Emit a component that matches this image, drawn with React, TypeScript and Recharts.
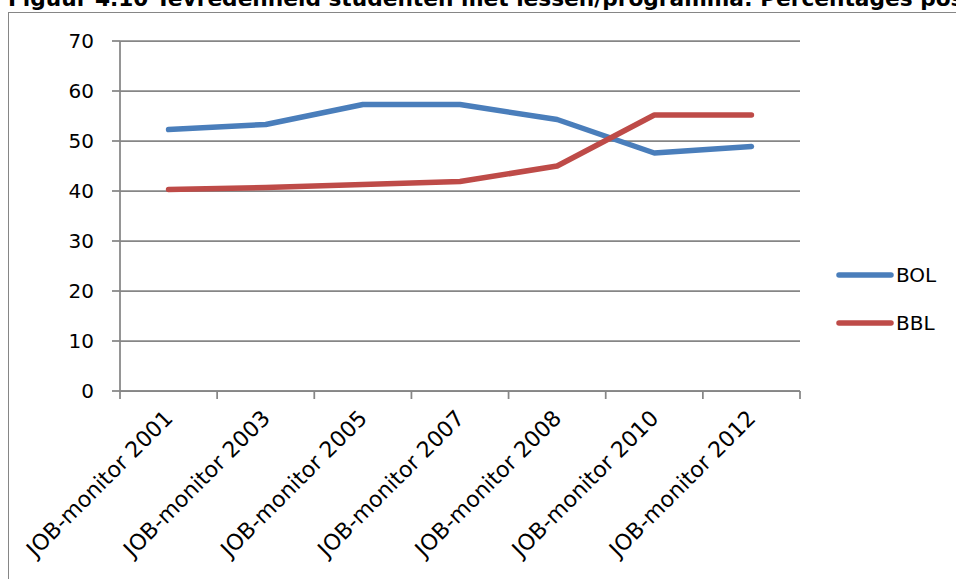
import { LineChart, Line, XAxis, YAxis, CartesianGrid, Legend } from 'recharts';

const categories = [
  'JOB-monitor 2001',
  'JOB-monitor 2003',
  'JOB-monitor 2005',
  'JOB-monitor 2007',
  'JOB-monitor 2008',
  'JOB-monitor 2010',
  'JOB-monitor 2012',
];
const bol = [52.3, 53.3, 57.3, 57.3, 54.3, 47.6, 48.9];
const bbl = [40.3, 40.7, 41.3, 41.9, 45.0, 55.2, 55.2];
const yTicks = [0, 10, 20, 30, 40, 50, 60, 70];

const title = 'Figuur 4.10 Tevredenheid studenten met lessen/programma: Percentages positief';

const data = categories.map((name, i) => ({ name, BOL: bol[i], BBL: bbl[i] }));

const W = 956;
const H = 579;
const PLOT_LEFT = 120;
const PLOT_RIGHT = 800;
const BAND = (PLOT_RIGHT - PLOT_LEFT) / categories.length;
const TICK = 8;
const GRID = '#868686';
const FONT = '"DejaVu Sans", Verdana, sans-serif';

const series = [
  { key: 'BOL', color: '#4A7EBB' },
  { key: 'BBL', color: '#BE4B48' },
];

// Excel style: tick marks between categories, labels at 45 degrees
const XTick = (props: any) => {
  const { x, y, payload, index } = props;
  const half = BAND / 2;
  return (
    <g>
      <line x1={x - half} x2={x - half} y1={y - TICK} y2={y} stroke={GRID} strokeWidth={1.75} />
      {index === categories.length - 1 && (
        <line x1={x + half} x2={x + half} y1={y - TICK} y2={y} stroke={GRID} strokeWidth={1.75} />
      )}
      <text
        transform={`translate(${x},${y + 15}) rotate(-45)`}
        textAnchor="end"
        dy="0.36em"
        fontSize={22}
        fontFamily={FONT}
        fill="#000"
      >
        {payload.value}
      </text>
    </g>
  );
};

const LegendBox = () => (
  <div>
    {series.map((s) => (
      <div key={s.key} style={{ display: 'flex', alignItems: 'center', height: 48 }}>
        <svg width={58} height={10} style={{ display: 'block' }}>
          <line x1={3} x2={55} y1={5} y2={5} stroke={s.color} strokeWidth={5.5} strokeLinecap="round" />
        </svg>
        <span style={{ fontSize: 20, fontFamily: FONT, color: '#000', marginLeft: 2 }}>{s.key}</span>
      </div>
    ))}
  </div>
);

export default function App() {
  return (
    <div
      style={{
        position: 'absolute',
        left: 0,
        top: 0,
        width: W,
        height: H,
        overflow: 'hidden',
        background: '#fff',
        fontFamily: FONT,
      }}
    >
      {/* frame of the chart object, cut off on the right and bottom */}
      <div
        style={{
          position: 'absolute',
          left: 8,
          top: 12,
          width: W + 20,
          height: H + 20,
          borderLeft: `1.5px solid ${GRID}`,
          borderTop: `1.5px solid ${GRID}`,
        }}
      />
      <svg width={W} height={20} style={{ position: 'absolute', left: 0, top: 0 }}>
        <text x={8} y={6} fontSize={21.7} fontWeight="bold" fontFamily={FONT} fill="#000">
          {title}
        </text>
      </svg>
      <div style={{ position: 'absolute', left: 0, top: 0 }}>
        <LineChart
          width={W}
          height={H}
          data={data}
          margin={{ top: 41, right: W - PLOT_RIGHT, bottom: 0, left: 0 }}
        >
          <CartesianGrid vertical={false} stroke={GRID} strokeWidth={1.75} />
          <XAxis
            dataKey="name"
            height={H - 391}
            padding={{ left: BAND / 2, right: BAND / 2 }}
            axisLine={{ stroke: GRID, strokeWidth: 1.75 }}
            tickLine={false}
            tickSize={TICK}
            tickMargin={0}
            interval={0}
            tick={<XTick />}
          />
          <YAxis
            width={PLOT_LEFT}
            domain={[0, 70]}
            ticks={yTicks}
            interval={0}
            axisLine={{ stroke: GRID, strokeWidth: 1.75 }}
            tickLine={{ stroke: GRID, strokeWidth: 1.75 }}
            tickSize={TICK}
            tickMargin={18}
            tick={{ fontSize: 20, fontFamily: FONT, fill: '#000' }}
          />
          <Legend
            layout="vertical"
            align="center"
            verticalAlign="middle"
            content={<LegendBox />}
            wrapperStyle={{ left: 836, top: 251, width: 110 }}
          />
          {series.map((s) => (
            <Line
              key={s.key}
              type="linear"
              dataKey={s.key}
              stroke={s.color}
              strokeWidth={5.5}
              strokeLinecap="round"
              strokeLinejoin="round"
              dot={false}
              activeDot={false}
              isAnimationActive={false}
            />
          ))}
        </LineChart>
      </div>
    </div>
  );
}
